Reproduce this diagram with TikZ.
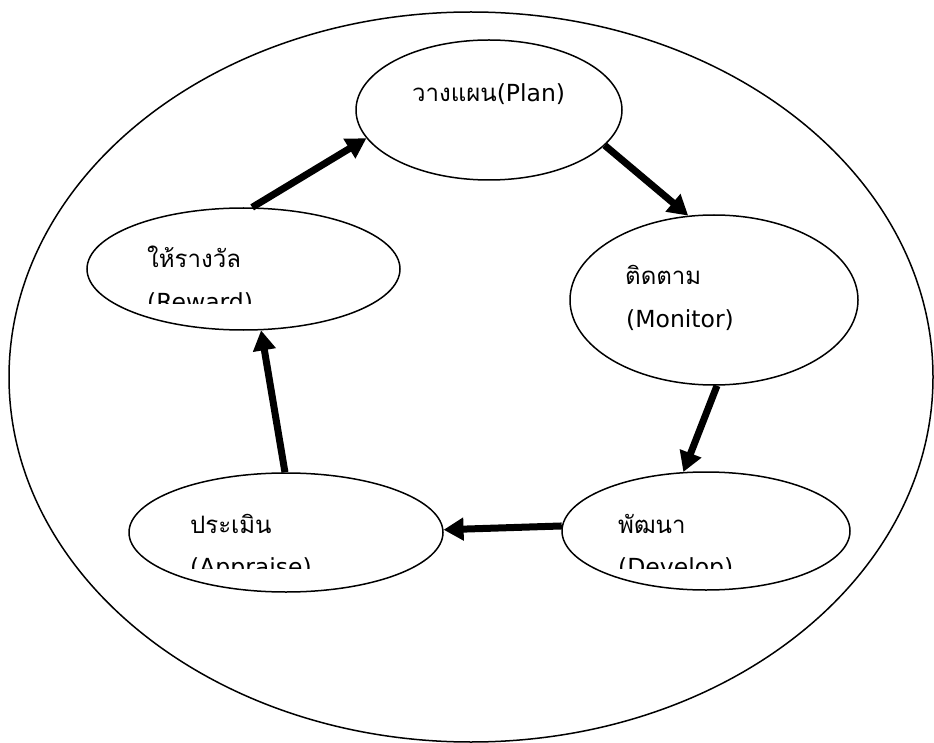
\documentclass[tikz,border=0pt]{standalone}
\usepackage{fontspec}
\setmainfont{DejaVu Sans}
\newfontfamily\thaifont[Script=Thai]{Loma}
\usetikzlibrary{shapes.geometric,arrows.meta}
\begin{document}
\begin{tikzpicture}[x=1pt,y=-1pt,
  ring/.style={draw,ellipse,line width=1.5pt,inner sep=0pt},
  lbl/.style={font=\fontsize{23.5}{42}\selectfont,anchor=base west,inner sep=0pt},
  flow/.style={line width=7pt,-{Triangle[length=20pt,width=22pt]}}]
\useasboundingbox (0,0) rectangle (934,743);
% outer frame
\node[ring,minimum width=924pt,minimum height=730pt] (frame) at (471,377) {};
% stages
\node[ring,minimum width=266pt,minimum height=140pt] (plan) at (489,110) {};
\node[ring,minimum width=288pt,minimum height=170pt] (monitor) at (714,300) {};
\node[ring,minimum width=288pt,minimum height=118pt] (develop) at (706,531) {};
\node[ring,minimum width=314pt,minimum height=119pt] (appraise) at (286,532.5) {};
\node[ring,minimum width=313pt,minimum height=122pt] (reward) at (243.5,269) {};
% labels
\node[lbl] (planA) at (412,102) {{\thaifont\fontsize{24}{42}\selectfont วางแผน}(Plan)};
\node[lbl] (monitorA) at (625,285) {\thaifont\fontsize{24}{42}\selectfont ติดตาม};
\node[lbl] (monitorB) at (626,327) {(Monitor)};
\begin{scope}
\clip (0,0) rectangle (934,303);
\node[lbl] (rewardA) at (147,268) {\thaifont\fontsize{24}{42}\selectfont ให้รางวัล};
\node[lbl] (rewardB) at (147,310) {(Reward)};
\end{scope}
\begin{scope}
\clip (0,0) rectangle (934,568);
\node[lbl] (appraiseA) at (190,533) {\thaifont\fontsize{24}{42}\selectfont ประเมิน};
\node[lbl] (appraiseB) at (190,575) {(Appraise)};
\node[lbl] (developA) at (618,533) {\thaifont\fontsize{24}{42}\selectfont พัฒนา};
\node[lbl] (developB) at (618,575) {(Develop)};
\end{scope}
% arrows
\draw[flow] (reward.82) -- (plan.193);
\draw[flow] (plan.343.3) -- (monitor.107.4);
\draw[flow] (monitor.272.6) -- (develop.111.3);
\draw[flow] (develop.178.4) -- (appraise.1.3);
\draw[flow] (appraise.91) -- (reward.286);
\end{tikzpicture}
\end{document}
